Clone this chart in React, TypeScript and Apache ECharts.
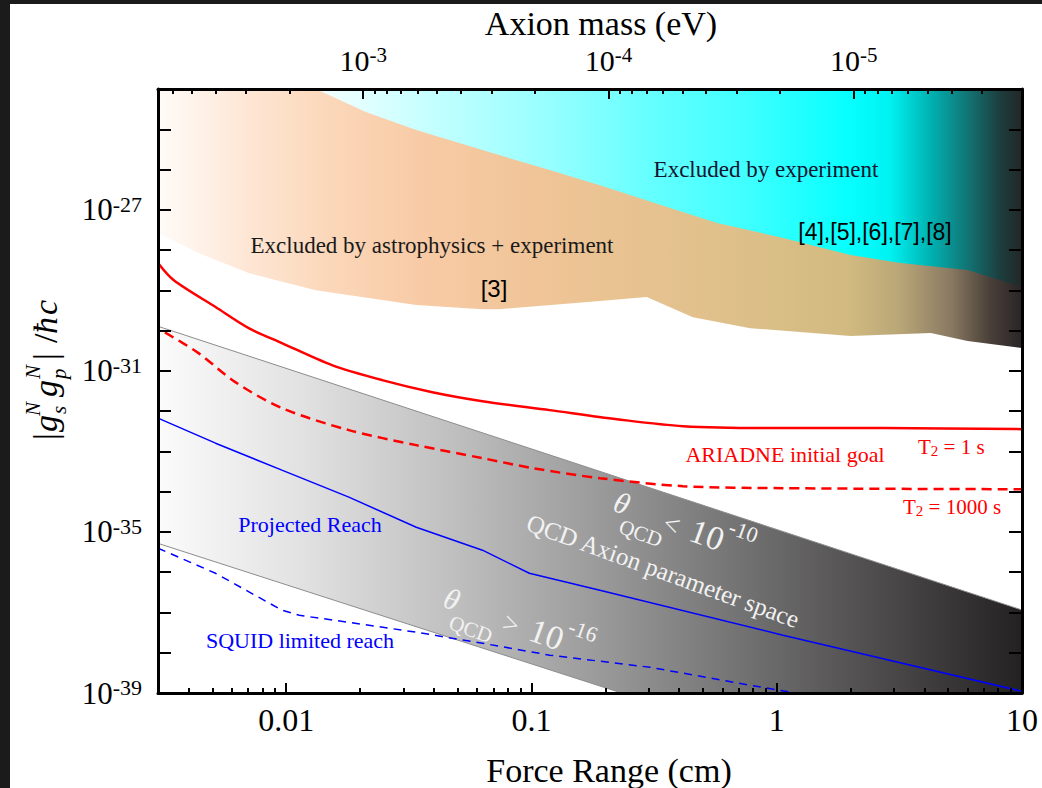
import React, { useEffect, useRef } from 'react';
import * as echarts from 'echarts';

// ---------- axis ranges & ticks ----------
const X_MIN_CM = 0.003;
const X_MAX_CM = 10;
const Y_MIN = 1e-39;
const Y_MAX = 1e-24;
const X_MAJOR_TICKS = [0.01, 0.1, 1, 10];
const X_TICK_LABELS = ['0.01', '0.1', '1', '10'];
const Y_LABEL_EXPONENTS = [-39, -35, -31, -27];
const MASS_MAJOR_TICKS = [1e-3, 1e-4, 1e-5];
const MASS_LENGTH_PRODUCT = 2.06e-5; // eV*cm, as the two axes line up in the figure

// ---------- regions and curves: [force range (cm), |gs gp|/hbar c] ----------
const ASTRO_LOWER = [
  [0.003, 2.64e-28], [0.00439, 8.4e-29], [0.00703, 2.68e-29], [0.0132, 1.01e-29],
  [0.0339, 4.3e-30], [0.0631, 3.4e-30], [0.074, 3.4e-30], [0.19, 5.4e-30],
  [0.295, 6.8e-30], [0.455, 2.16e-30], [0.78, 1.15e-30], [2.0, 7.3e-31],
  [4.25, 8.7e-31], [6.0, 5.5e-31], [10, 3.7e-31],
];
const EXPT_LOWER = [
  [0.0132, 1e-24], [0.0211, 2.68e-25], [0.0339, 9.6e-26], [0.0631, 3.05e-26],
  [0.1186, 9.7e-27], [0.19, 4.1e-27], [0.357, 1.17e-27], [0.571, 4.7e-28],
  [1.063, 2.0e-28], [2.0, 7.5e-29], [3.2, 4.75e-29], [6.0, 3.2e-29], [10, 1.2e-29],
];
const QCD_UPPER = [[0.003, 1.28e-30], [10, 1.15e-37]];
const QCD_LOWER = [[0.003, 5.2e-36], [0.233, 1e-39]];
const GOAL_T2_1S = [
  [0.003, 4.75e-29], [0.00347, 1.8e-29], [0.00515, 3.84e-30], [0.00703, 1.15e-30],
  [0.0096, 4.9e-31], [0.01536, 1.39e-31], [0.0246, 5.9e-32], [0.0394, 2.96e-32],
  [0.0631, 1.77e-32], [0.1186, 1.06e-32], [0.223, 6.3e-33], [0.415, 4.24e-33],
  [1.06, 3.8e-33], [2.73, 3.8e-33], [10, 3.57e-33],
];
const GOAL_T2_1000S = [
  [0.0032, 9e-31], [0.00439, 2.76e-31], [0.0062, 5.25e-32], [0.0096, 1.19e-32],
  [0.018, 3.37e-33], [0.0339, 1.43e-33], [0.0631, 6.8e-34], [0.101, 3.84e-34],
  [0.19, 2.16e-34], [0.415, 1.37e-34], [1.06, 1.22e-34], [10, 1.15e-34],
];
const PROJECTED_REACH = [
  [0.003, 6.7e-33], [0.00515, 1.6e-33], [0.0096, 3.42e-34], [0.018, 7.3e-35],
  [0.0339, 1.31e-35], [0.0631, 3.52e-36], [0.098, 9.4e-37], [0.19, 3.57e-37],
  [1.06, 2.72e-38], [10, 1.1e-39],
];
const SQUID_REACH = [
  [0.003, 3.94e-36], [0.00515, 9.4e-37], [0.0096, 1.14e-37], [0.0113, 8.5e-38],
  [0.018, 5.7e-38], [0.0339, 3.23e-38], [0.0631, 1.72e-38], [0.1186, 8.7e-39],
  [0.304, 4.36e-39], [0.78, 1.56e-39], [1.19, 1.0e-39],
];

const SERIF = '"Liberation Serif", "Times New Roman", serif';
const SANS = '"Liberation Sans", Arial, sans-serif';
const L = Math.log10;
const toLog = (pts: number[][]) => pts.map(([x, y]) => [L(x), L(y)]);

function minorTicksCm(): number[] {
  const out: number[] = [];
  for (let n = -3; n <= 0; n++) {
    for (let k = 2; k <= 9; k++) {
      const v = k * Math.pow(10, n);
      if (v >= X_MIN_CM && v <= X_MAX_CM) out.push(L(v));
    }
  }
  return out;
}
function minorTicksMass(): number[] {
  const out: number[] = [];
  for (let n = -6; n <= -3; n++) {
    for (let k = 2; k <= 9; k++) {
      const lam = MASS_LENGTH_PRODUCT / (k * Math.pow(10, n));
      if (lam >= X_MIN_CM && lam <= X_MAX_CM) out.push(L(lam));
    }
  }
  return out;
}

export default function App() {
  const ref = useRef<HTMLDivElement>(null);
  useEffect(() => {
    if (!ref.current) return;
    const chart = echarts.init(ref.current, undefined, { renderer: 'svg' });
    const G = (stops: [number, string][]) =>
      new echarts.graphic.LinearGradient(158, 0, 1022, 0,
        stops.map(([offset, color]) => ({ offset, color })), true);
    const peach = G([[0, '#fffbf8'], [0.106, '#fee6d4'], [0.199, '#fbd7b9'], [0.303, '#f8cba6'],
      [0.454, '#efc496'], [0.569, '#e6c290'], [0.685, '#dcbf88'], [0.801, '#d1ba80'],
      [0.859, '#b9a677'], [0.917, '#8a7a62'], [0.963, '#4a4039'], [1, '#2a2428']]);
    const cyan = G([[0.184, '#f4ffff'], [0.338, '#bdffff'], [0.454, '#96ffff'], [0.569, '#66ffff'],
      [0.685, '#3effff'], [0.801, '#06ffff'], [0.847, '#00f2f2'], [0.894, '#00b2b2'],
      [0.94, '#137070'], [0.975, '#1d3d3d'], [1, '#222727']]);
    const gray = G([[0, '#fbfbfb'], [0.164, '#e2e2e2'], [0.338, '#c0c0c0'], [0.512, '#9a9a9a'],
      [0.685, '#717070'], [0.859, '#474545'], [1, '#232121']]);

    const xMin = L(X_MIN_CM), xMax = L(X_MAX_CM), yMin = L(Y_MIN), yMax = L(Y_MAX);
    const yTicks: number[] = [];
    for (let e = yMin; e <= yMax; e++) yTicks.push(e);
    const supRich = (big: number, small: number, raise: number) => ({
      b: { fontSize: big, fontFamily: SERIF, color: '#000', lineHeight: big + 2 },
      s: { fontSize: small, fontFamily: SERIF, color: '#000', lineHeight: raise, verticalAlign: 'top' },
    });
    const tickStyle = { color: '#000', width: 2 };
    const axBase = { type: 'value', splitLine: { show: false }, z: 10, silent: true };
    const xAx = { ...axBase, min: xMin, max: xMax };
    const yAx = { ...axBase, min: yMin, max: yMax };

    const areaLine = { type: 'line', showSymbol: false, symbol: 'none', silent: true, z: 1 };
    const curve = (data: number[][], color: string, width: number, type: any, smooth: number) => ({
      type: 'line', showSymbol: false, symbol: 'none', silent: true, z: 3,
      smooth, data: toLog(data),
      lineStyle: { color, width, type },
    });

    const t = (text: string, x: number, y: number, o: any = {}) => ({
      type: 'text', x, y, z: 100, silent: true, rotation: o.rotation || 0,
      style: {
        text, fontSize: o.size || 22, fontFamily: o.family || SERIF, fontStyle: o.italic ? 'italic' : 'normal',
        fill: o.fill || '#000', align: o.align || 'center', verticalAlign: 'middle',
        textAlign: o.align || 'center', textVerticalAlign: 'middle', rich: o.rich,
      },
    });
    const white = '#f2f2f2';
    const thetaGroup = (x: number, y: number, rel: string, exp: string, du: number) => ({
      type: 'group', x, y, rotation: -0.349, z: 100, silent: true,
      children: [
        t('θ', 0, 0, { size: 30, italic: true, fill: white }),
        t('QCD', 28, 22, { size: 21, fill: white }),
        t(rel, 54 + du, 3, { size: 28, fill: white }),
        t('10', 91 + du, 1, { size: 34, fill: white }),
        t(exp, 124 + du, -15, { size: 22, fill: white }),
      ],
    });
    const T2rich = {
      m: { fontSize: 21, fontFamily: SERIF, fill: '#ff0000', color: '#ff0000', lineHeight: 22, verticalAlign: 'top' },
      sub: { fontSize: 15, fontFamily: SERIF, fill: '#ff0000', color: '#ff0000', lineHeight: 4, verticalAlign: 'bottom' },
    };

    chart.setOption({
      animation: false,
      backgroundColor: '#ffffff',
      grid: { left: 158, top: 89, width: 864, height: 604 },
      xAxis: [
        { ...xAx, position: 'bottom',
          axisLine: { show: true, onZero: false, lineStyle: { color: '#000', width: 3 } },
          axisTick: { show: true, inside: true, length: 10, lineStyle: tickStyle, customValues: X_MAJOR_TICKS.map(L) },
          axisLabel: { show: true, customValues: X_MAJOR_TICKS.map(L), margin: 11, fontSize: 32, fontFamily: SERIF, color: '#000',
            formatter: (v: number) => { const i = X_MAJOR_TICKS.findIndex((m) => Math.abs(L(m) - v) < 1e-6); return i >= 0 ? X_TICK_LABELS[i] : ''; } } },
        { ...xAx, position: 'bottom', axisLine: { show: false, onZero: false },
          axisTick: { show: true, inside: true, length: 5, lineStyle: tickStyle, customValues: minorTicksCm() },
          axisLabel: { show: false } },
        { ...xAx, position: 'top',
          axisLine: { show: true, onZero: false, lineStyle: { color: '#000', width: 3 } },
          axisTick: { show: true, inside: true, length: 10, lineStyle: tickStyle, customValues: MASS_MAJOR_TICKS.map((m) => L(MASS_LENGTH_PRODUCT / m)) },
          axisLabel: { show: true, customValues: MASS_MAJOR_TICKS.map((m) => L(MASS_LENGTH_PRODUCT / m)), margin: 13,
            formatter: (v: number) => `{b|10}{s|${Math.round(L(MASS_LENGTH_PRODUCT) - v)}}`, rich: supRich(30, 21, 14) } },
        { ...xAx, position: 'top', axisLine: { show: false, onZero: false },
          axisTick: { show: true, inside: true, length: 5, lineStyle: tickStyle, customValues: minorTicksMass() },
          axisLabel: { show: false } },
      ],
      yAxis: [
        { ...yAx, position: 'left',
          axisLine: { show: true, onZero: false, lineStyle: { color: '#000', width: 3 } },
          axisTick: { show: true, inside: true, length: 13, lineStyle: tickStyle, customValues: yTicks },
          axisLabel: { show: true, customValues: Y_LABEL_EXPONENTS, margin: 16, align: 'right',
            formatter: (v: number) => `{b|10}{s|${Math.round(v)}}`, rich: supRich(31, 22, 14) } },
        { ...yAx, position: 'right',
          axisLine: { show: true, onZero: false, lineStyle: { color: '#000', width: 3 } },
          axisTick: { show: true, inside: true, length: 13, lineStyle: tickStyle, customValues: yTicks },
          axisLabel: { show: false } },
      ],
      series: [
        { ...areaLine, data: toLog(ASTRO_LOWER), lineStyle: { width: 0 }, areaStyle: { origin: 'end', color: peach, opacity: 1 } },
        { ...areaLine, data: toLog(EXPT_LOWER), lineStyle: { width: 0 }, areaStyle: { origin: 'end', color: cyan, opacity: 1 } },
        { ...areaLine, data: toLog(QCD_UPPER), lineStyle: { width: 1, color: '#8c8c8c' }, areaStyle: { origin: 'start', color: gray, opacity: 1 } },
        { ...areaLine, data: toLog(QCD_LOWER), lineStyle: { width: 1, color: '#8c8c8c' }, areaStyle: { origin: 'start', color: '#ffffff', opacity: 1 } },
        curve(GOAL_T2_1S, '#ff0000', 2.5, 'solid', 0.3),
        curve(GOAL_T2_1000S, '#ff0000', 2.5, [10, 6], 0.3),
        curve(PROJECTED_REACH, '#0000ff', 1.5, 'solid', 0),
        curve(SQUID_REACH, '#0000ff', 1.5, [8, 6], 0),
      ],
      graphic: [
        { type: 'rect', z: 200, silent: true, shape: { x: 0, y: 0, width: 10, height: 788 }, style: { fill: '#1b1b1b' } },
        { type: 'rect', z: 200, silent: true, shape: { x: 0, y: 0, width: 1042, height: 4 }, style: { fill: '#1b1b1b' } },
        t('Axion mass (eV)', 601, 23, { size: 34 }),
        t('Force Range (cm)', 609, 770, { size: 34 }),
        t('Excluded by experiment', 766, 169, { size: 23, fill: '#141430' }),
        t('Excluded by astrophysics + experiment', 432, 245, { size: 23, fill: '#1a1a1a' }),
        t('[4],[5],[6],[7],[8]', 875, 232, { size: 23, family: SANS }),
        t('[3]', 494, 288, { size: 24, family: SANS }),
        t('ARIADNE initial goal', 785, 454, { size: 22, fill: '#ff0000' }),
        t('{m|T}{sub|2}{m| = 1 s}', 918, 447, { align: 'left', rich: T2rich, fill: '#ff0000' }),
        t('{m|T}{sub|2}{m| = 1000 s}', 903, 507, { align: 'left', rich: T2rich, fill: '#ff0000' }),
        t('Projected Reach', 310, 524, { size: 22, fill: '#0000ff' }),
        t('SQUID limited reach', 300, 640, { size: 22, fill: '#0000ff' }),
        t('QCD Axion parameter space', 663, 571, { size: 25, fill: white, rotation: -0.349 }),
        thetaGroup(622, 503, '<', '-10', 0),
        thetaGroup(452, 599, '>', '-16', 10),
        {
          type: 'group', x: 56, y: 440, rotation: Math.PI / 2, z: 100, silent: true,
          children: [
            t('|', 0, -11, { size: 34, align: 'left' }),
            t('g', 8, -11, { size: 34, italic: true, align: 'left' }),
            t('s', 26, 3, { size: 21, italic: true, align: 'left' }),
            t('N', 24, -23, { size: 21, italic: true, align: 'left' }),
            t('g', 43, -11, { size: 34, italic: true, align: 'left' }),
            t('p', 61, 3, { size: 21, italic: true, align: 'left' }),
            t('N', 61, -23, { size: 21, italic: true, align: 'left' }),
            t('|', 80, -11, { size: 34, align: 'left' }),
            t('/', 97, -11, { size: 34, align: 'left' }),
            t('ħ', 106, -11, { size: 34, italic: true, align: 'left' }),
            t('c', 125, -11, { size: 34, italic: true, align: 'left' }),
          ],
        },
      ],
    });
    return () => chart.dispose();
  }, []);
  return <div ref={ref} style={{ position: 'fixed', left: 0, top: 0, width: 1042, height: 788 }} />;
}
